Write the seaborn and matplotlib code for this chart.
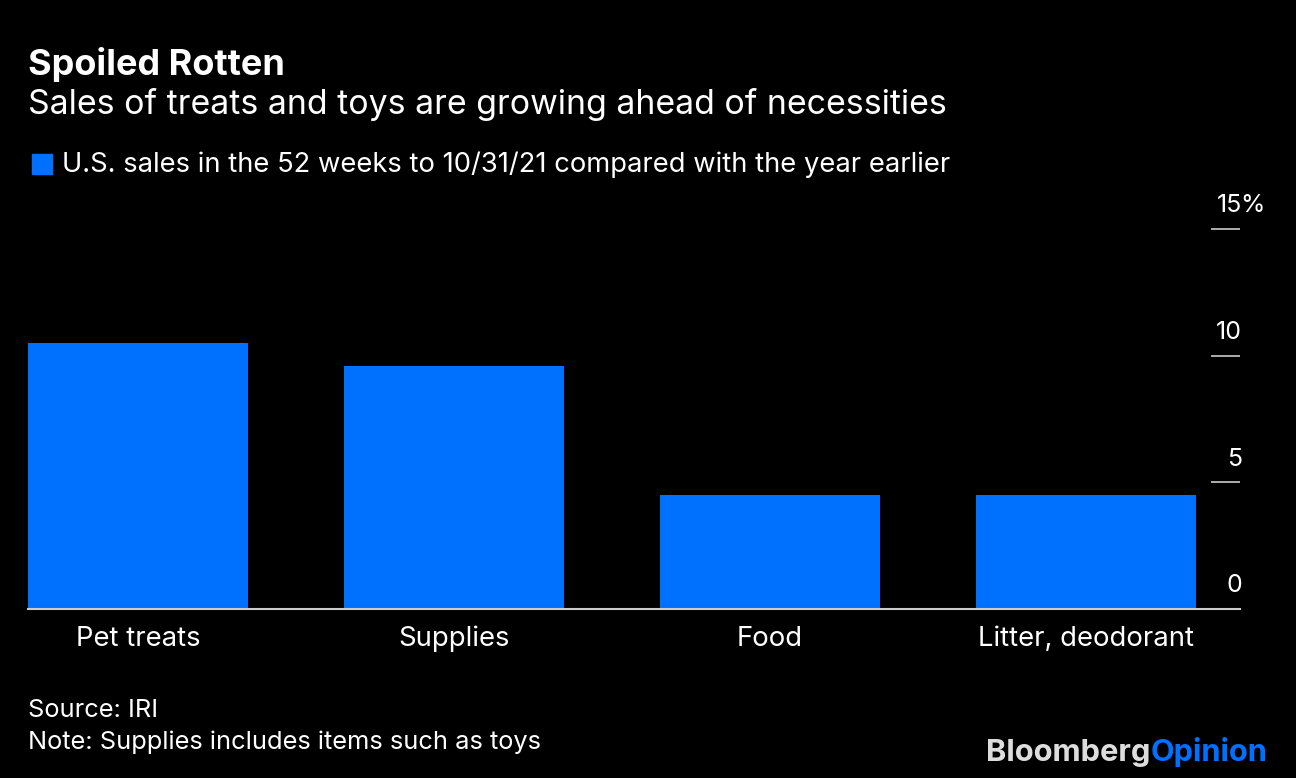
import matplotlib
matplotlib.use("Agg")
import matplotlib.pyplot as plt
import seaborn as sns
import pandas as pd

# === data ===
categories = ["Pet treats", "Supplies", "Food", "Litter, deodorant"]
sales_change = [10.5, 9.6, 4.5, 4.5]
y_ticks = [0, 5, 10, 15]

BG = "#000000"
BLUE = "#0070ff"
GREY = "#cccccc"

sns.set_style("dark", {"axes.facecolor": BG, "figure.facecolor": BG})
plt.rcParams["font.family"] = ["Inter", "DejaVu Sans"]

df = pd.DataFrame({"category": categories, "value": sales_change})

fig = plt.figure(figsize=(12.96, 7.78), dpi=100)
ax = fig.add_axes([28 / 1296, 1 - 609 / 778, (1240 - 28) / 1296, (609 - 229) / 778])

sns.barplot(data=df, x="category", y="value", color=BLUE, saturation=1,
            width=0.696, ax=ax, linewidth=0)

ax.set_xlim(-0.348, 3.487)
ax.set_ylim(0, 15)
ax.set_xlabel("")
ax.set_ylabel("")
ax.grid(False)
for side in ["top", "left", "right"]:
    ax.spines[side].set_visible(False)
ax.spines["bottom"].set_color(GREY)
ax.spines["bottom"].set_linewidth(1.5)

# x labels under the bars
ax.tick_params(axis="x", length=0, pad=12, labelsize=19.8, labelcolor="white")

# y ticks: short lines on the right, numbers sitting above them
ax.set_yticks(y_ticks)
ax.tick_params(axis="y", direction="in", length=21, width=1.2, color=GREY,
               left=False, right=True, labelleft=False, labelright=False)
for v in y_ticks:
    ax.annotate(str(v), xy=(1, v), xycoords=("axes fraction", "data"),
                xytext=(1.5, 12), textcoords="offset points",
                ha="right", va="baseline", color="white", fontsize=18,
                annotation_clip=False)
ax.annotate("%", xy=(1, y_ticks[-1]), xycoords=("axes fraction", "data"),
            xytext=(0.3, 12), textcoords="offset points",
            ha="left", va="baseline", color="white", fontsize=18,
            annotation_clip=False)

# === titles ===
fig.text(28 / 1296, 1 - 75 / 778, "Spoiled Rotten", color="white",
         fontsize=26, fontweight="bold", va="baseline")
fig.text(28 / 1296, 1 - 114 / 778,
         "Sales of treats and toys are growing ahead of necessities",
         color="white", fontsize=24.4, va="baseline")

# legend
fig.patches.append(plt.Rectangle((32 / 1296, 1 - 174 / 778), 20 / 1296, 20 / 778,
                                 transform=fig.transFigure, color=BLUE))
fig.text(62 / 1296, 1 - 172 / 778,
         "U.S. sales in the 52 weeks to 10/31/21 compared with the year earlier",
         color="white", fontsize=19.7, va="baseline")

# footer
fig.text(28 / 1296, 1 - 717 / 778, "Source: IRI", color="white",
         fontsize=18.3, va="baseline")
fig.text(28 / 1296, 1 - 749 / 778, "Note: Supplies includes items such as toys",
         color="white", fontsize=18.3, va="baseline")
logo = fig.text(1267 / 1296, 1 - 761 / 778, "Opinion", color=BLUE,
                fontsize=22.2, fontweight="bold", ha="right", va="baseline")
fig.canvas.draw()
bb = logo.get_window_extent()
fig.text(bb.x0 / 1296, 1 - 761 / 778, "Bloomberg", color="#dddddd",
         fontsize=22.2, fontweight="bold", ha="right", va="baseline")

fig.savefig("out.png", dpi=100, facecolor=BG)
